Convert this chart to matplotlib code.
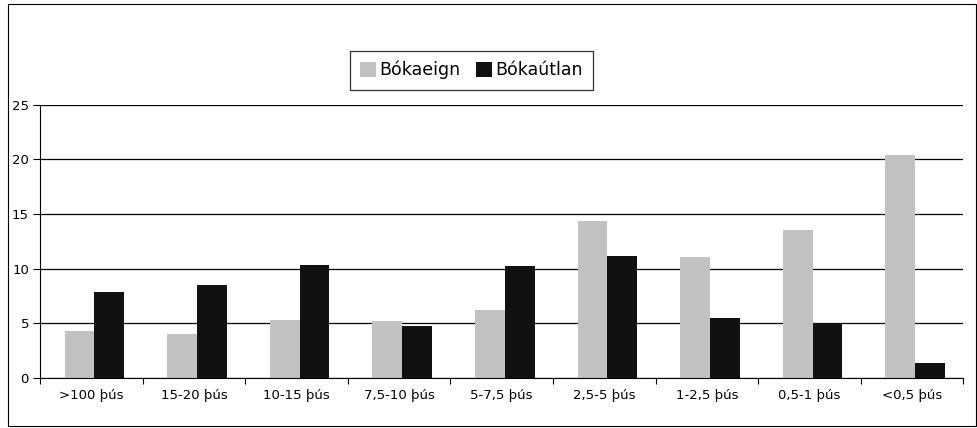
import numpy as np
import matplotlib.pyplot as plt
from matplotlib.patches import Rectangle

categories = ['>100 þús', '15-20 þús', '10-15 þús', '7,5-10 þús', '5-7,5 þús',
              '2,5-5 þús', '1-2,5 þús', '0,5-1 þús', '<0,5 þús']
eign = [4.3, 4.0, 5.3, 5.25, 6.2, 14.4, 11.05, 13.55, 20.4]
utlan = [7.9, 8.5, 10.35, 4.75, 10.25, 11.2, 5.45, 5.05, 1.4]
series_names = ['Bókaeign', 'Bókaútlan']


def main():
    fig = plt.figure(figsize=(9.78, 4.28), dpi=100)
    ax = fig.add_axes([0.041, 0.117, 0.944, 0.638])

    x = np.arange(len(categories))
    w = 0.29
    ax.bar(x - w / 2 + 0.03, eign, w, color='#c2c2c2', label=series_names[0], zorder=2)
    ax.bar(x + w / 2 + 0.03, utlan, w, color='#111111', label=series_names[1], zorder=2)

    ax.set_xlim(-0.5, len(categories) - 0.5)
    ax.set_ylim(0, 25)
    ax.set_yticks([0, 5, 10, 15, 20, 25])
    ax.yaxis.grid(True, color='black', linewidth=0.9, zorder=0)
    ax.set_axisbelow(True)

    ax.set_xticks(x)
    ax.set_xticklabels(categories, fontsize=9.5)
    ax.set_xticks(np.arange(len(categories) + 1) - 0.5, minor=True)
    ax.tick_params(axis='x', which='major', length=0, pad=8)
    ax.tick_params(axis='x', which='minor', length=4, direction='out', width=0.8)
    ax.tick_params(axis='y', length=5, width=0.8, labelsize=9.5, pad=3)

    for s in ['top', 'right']:
        ax.spines[s].set_visible(False)
    ax.spines['left'].set_linewidth(0.8)
    ax.spines['bottom'].set_linewidth(0.8)

    leg = fig.legend(loc='center', bbox_to_anchor=(0.482, 0.836), ncol=2,
                     fontsize=12.5, frameon=True, fancybox=False,
                     edgecolor='black', handlelength=0.9, handleheight=0.9,
                     handletextpad=0.2, columnspacing=0.9, borderpad=0.6)
    leg.get_frame().set_linewidth(0.9)

    fig.patches.append(Rectangle((0.008, 0.005), 0.99, 0.985, transform=fig.transFigure,
                                 fill=False, edgecolor='black', linewidth=0.8))

    fig.savefig('out.png', dpi=100)


if __name__ == '__main__':
    main()
